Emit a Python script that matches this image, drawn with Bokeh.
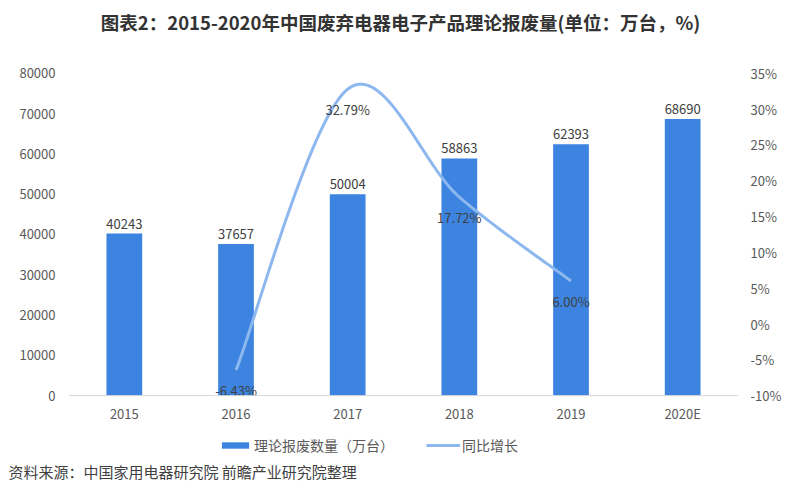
import numpy as np
from bokeh.plotting import figure
from bokeh.models import (Range1d, LinearAxis, FixedTicker, ColumnDataSource, Title, Label, Span,
                          Legend, LegendItem, PrintfTickFormatter)
from bokeh.core.properties import value
from bokeh.embed import file_html
from bokeh.resources import INLINE

years = ["2015", "2016", "2017", "2018", "2019", "2020E"]
amount = [40243, 37657, 50004, 58863, 62393, 68690]
growth_years = ["2016", "2017", "2018", "2019"]
growth = [-6.43, 32.79, 17.72, 6.00]
left_ticks = [0, 10000, 20000, 30000, 40000, 50000, 60000, 70000, 80000]
right_ticks = [-10, -5, 0, 5, 10, 15, 20, 25, 30, 35]
title_text = "图表2：2015-2020年中国废弃电器电子产品理论报废量(单位：万台，%)"
source_text = "资料来源：中国家用电器研究院 前瞻产业研究院整理"

FONT = "Noto Sans CJK SC"
BAR_COLOR = "#3c84e0"
LINE_COLOR = "#8cb8ef"

# layout (pixels from the top of the canvas)
W, H = 784, 484
TOP_PX, BASE_PX, FRAME_BOTTOM = 73, 396, 456
L_MIN, L_MAX = 0, 80000
R_MIN, R_MAX = -10, 35


def left_at(px):
    return L_MIN + (L_MAX - L_MIN) * (BASE_PX - px) / (BASE_PX - TOP_PX)


def right_at(px):
    return R_MIN + (R_MAX - R_MIN) * (BASE_PX - px) / (BASE_PX - TOP_PX)


p = figure(width=W, height=H, output_backend="svg", toolbar_location=None, title_location=None,
           x_range=Range1d(0, len(years)), y_range=Range1d(left_at(FRAME_BOTTOM), left_at(0)),
           min_border_left=68, min_border_right=44, min_border_top=0,
           min_border_bottom=H - FRAME_BOTTOM)
p.outline_line_color = None
p.xgrid.visible = False
p.ygrid.visible = False
p.extra_y_ranges = {"pct": Range1d(right_at(FRAME_BOTTOM), right_at(0))}

xs = [i + 0.5 for i in range(len(years))]
bar_src = ColumnDataSource(dict(x=xs, top=amount, label=[str(v) for v in amount]))
bars = p.vbar(x="x", top="top", bottom=0, width=0.32, source=bar_src,
              fill_color=BAR_COLOR, line_color=None)
p.text(x="x", y="top", text="label", source=bar_src, text_align="center", text_baseline="bottom",
       y_offset=-5, text_font=value(FONT), text_font_size="13px", text_color="#404040")
p.add_layout(Span(location=0, dimension="width", line_color="#d9d9d9", line_width=1))

# smooth line (Catmull-Rom rendering of the growth points)
gx = np.array([years.index(y) + 0.5 for y in growth_years])
gy = np.array(growth)
px = np.concatenate([[gx[0]], gx, [gx[-1]]])
py = np.concatenate([[gy[0]], gy, [gy[-1]]])
cx, cy = [], []
for i in range(1, len(px) - 2):
    t = np.linspace(0, 1, 40)
    for arr, out in ((px, cx), (py, cy)):
        p0, p1, p2, p3 = arr[i - 1], arr[i], arr[i + 1], arr[i + 2]
        out.extend(0.5 * ((2 * p1) + (-p0 + p2) * t + (2 * p0 - 5 * p1 + 4 * p2 - p3) * t ** 2
                          + (-p0 + 3 * p1 - 3 * p2 + p3) * t ** 3))
line = p.line(cx, cy, y_range_name="pct", line_color=LINE_COLOR, line_width=3)

g_src = ColumnDataSource(dict(x=list(gx), y=list(gy), label=["%.2f%%" % v for v in growth]))
p.text(x="x", y="y", text="label", source=g_src, y_range_name="pct", text_align="center",
       text_baseline="middle", y_offset=20, text_font=value(FONT), text_font_size="13px",
       text_color="#404040")

# axes
xa = p.xaxis[0]
xa.ticker = FixedTicker(ticks=xs)
xa.major_label_overrides = {x: y for x, y in zip(xs, years)}
xa.fixed_location = left_at(420)
xa.axis_line_color = None
xa.major_tick_line_color = None
xa.minor_tick_line_color = None
xa.major_tick_out = 0
xa.major_tick_in = 0
xa.minor_tick_out = 0
xa.major_label_standoff = -16
xa.major_label_text_font = FONT
xa.major_label_text_font_size = "13px"
xa.major_label_text_color = "#595959"

ya = p.yaxis[0]
ya.ticker = FixedTicker(ticks=left_ticks)
ya.axis_line_color = None
ya.major_tick_line_color = None
ya.minor_tick_line_color = None
ya.major_tick_out = 0
ya.major_tick_in = 0
ya.minor_tick_out = 0
ya.major_label_standoff = 13
ya.major_label_text_font = FONT
ya.major_label_text_font_size = "13px"
ya.major_label_text_color = "#595959"

ra = LinearAxis(y_range_name="pct", ticker=FixedTicker(ticks=right_ticks),
                formatter=PrintfTickFormatter(format="%d%%"))
ra.axis_line_color = None
ra.major_tick_line_color = None
ra.minor_tick_line_color = None
ra.major_tick_out = 0
ra.major_tick_in = 0
ra.minor_tick_out = 0
ra.major_label_standoff = 12
ra.major_label_text_font = FONT
ra.major_label_text_font_size = "13px"
ra.major_label_text_color = "#595959"
p.add_layout(ra, "right")

legend = Legend(items=[LegendItem(label="理论报废数量（万台）", renderers=[bars]),
                       LegendItem(label="同比增长", renderers=[line])],
                orientation="horizontal", location=(150, 0), glyph_width=34, glyph_height=8,
                label_standoff=2, spacing=32, padding=0, margin=0,
                border_line_color=None, background_fill_alpha=0,
                label_text_font=FONT, label_text_font_size="14px", label_text_color="#595959")
p.add_layout(legend)

p.add_layout(Label(x=len(years) / 2, y=left_at(22), x_offset=-3, text=title_text,
                   text_align="center", text_baseline="middle", text_font=FONT,
                   text_font_size="18.5px", text_font_style="bold", text_color="#333333"))

src_title = Title(text=source_text, align="left", offset=-60, standoff=6,
                  text_font=FONT, text_font_size="15px", text_font_style="normal",
                  text_color="#404040")
p.add_layout(src_title, "below")

open("out.html", "w").write(file_html(p, INLINE))
